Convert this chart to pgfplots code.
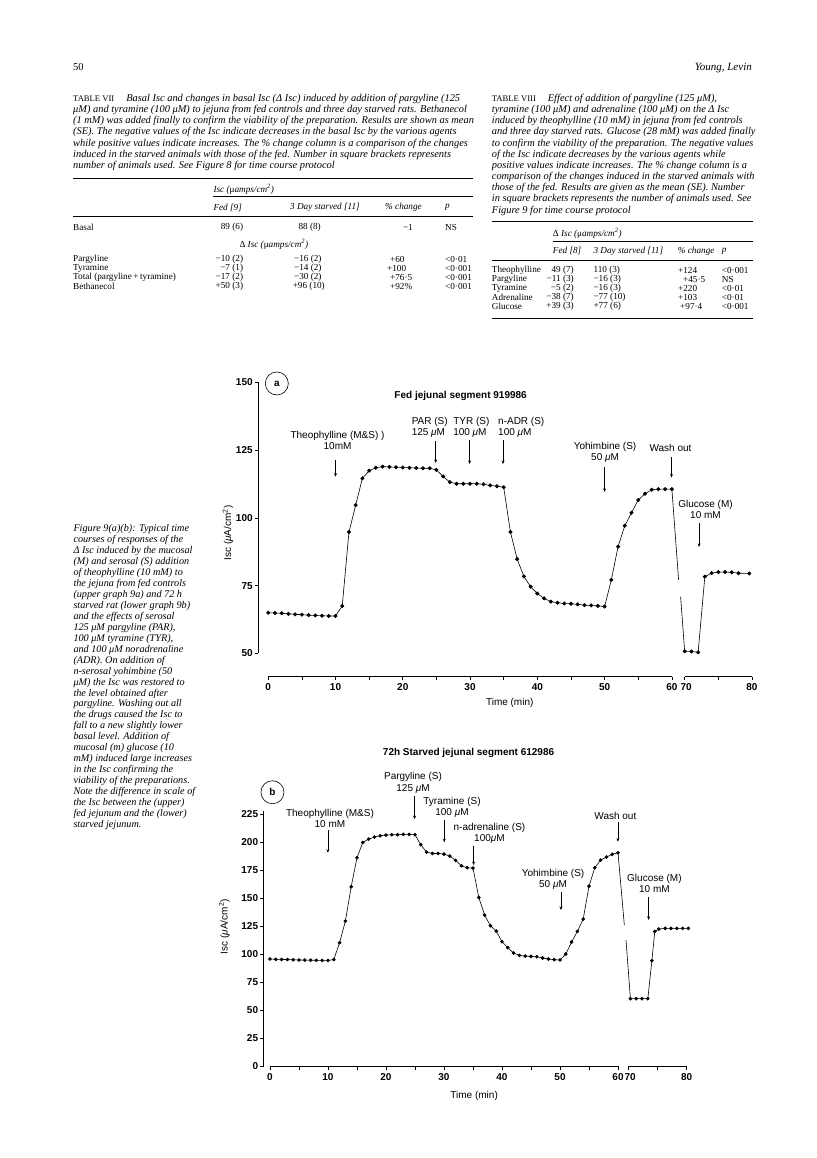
\documentclass[border=0pt]{standalone}
\usepackage{fontspec}
\setmainfont{Liberation Serif}
\setsansfont{Liberation Sans}
\usepackage{pgfplots}
\usepackage{pgfplotstable}
\pgfplotsset{compat=1.18}
\usetikzlibrary{arrows.meta}

% ---------- data: plot (a), fed jejunum ----------
\pgfplotstableread{
t v
0 65.0
1 64.9
2 64.8
3 64.6
4 64.4
5 64.3
6 64.1
7 64.0
8 63.9
9 63.8
10 63.8
11 67.5
12 94.8
13 104.7
14 114.6
15 117.4
16 118.5
17 118.9
18 118.8
19 118.7
20 118.6
21 118.5
22 118.4
23 118.3
24 118.3
25 117.7
26 115.3
27 113.2
28 112.6
29 112.6
30 112.6
31 112.6
32 112.4
33 112.0
34 111.7
35 111.3
36 94.8
37 84.8
38 78.4
39 74.6
40 72.1
41 70.3
42 69.1
43 68.7
44 68.4
45 68.3
46 68.1
47 67.8
48 67.7
49 67.5
50 67.3
51 77.1
52 89.4
53 97.1
54 101.9
55 106.6
56 108.9
57 110.4
58 110.6
59 110.6
60 110.6
}\dataAone
\pgfplotstableread{
t v
70 50.8
71 50.7
72 50.4
73 78.3
74 79.6
75 80.0
76 80.0
77 79.9
78 79.6
79.6 79.5
}\dataAtwo
% ---------- data: plot (b), starved jejunum ----------
\pgfplotstableread{
t v
0 95.7
1 95.4
2 95.3
3 95.2
4 95.0
5 94.8
6 94.7
7 94.6
8 94.5
9 94.4
10 94.4
11 95.2
12 110.2
13 129.5
14 160.1
15 186.0
16 199.6
17 202.6
18 204.4
19 205.6
20 206.2
21 206.5
22 206.5
23 206.8
24 206.8
25 206.5
26 197.6
27 191.0
28 189.8
29 189.8
30 189.2
31 187.5
32 183.6
33 178.8
34 177.1
35 176.8
36 150.6
37 134.9
38 125.4
39 120.6
40 111.1
41 105.8
42 101.0
43 98.9
44 98.3
45 98.0
46 97.7
47 96.6
48 95.7
49 95.1
50 94.8
51 100.1
52 110.8
53 120.3
54 131.3
55 160.7
56 177.1
57 183.9
58 186.6
59 189.0
60 190.4
}\dataBone
\pgfplotstableread{
t v
70.3 60.3
71.3 60.3
72.3 60.3
73.3 60.3
74.0 94.2
74.5 120.3
75.2 122.4
76.3 123.0
77.3 123.0
78.3 123.0
79.3 123.0
80.3 123.0
}\dataBtwo

\newcommand{\tn}[4][west]{\node[anchor=#1,inner sep=0pt] at (#2pt,{(1158-#3)*1pt}) {#4};}
\newcommand{\hr}[4]{\draw[line width=#4] (#1pt,{(1158-#3)*1pt}) -- (#2pt,{(1158-#3)*1pt});}
\newcommand{\capfont}{\fontsize{10.4}{11.15}\selectfont\itshape}
\newcommand{\tabf}{\fontsize{9.2}{10}\selectfont}
\newcommand{\tabi}{\fontsize{9.2}{10}\selectfont\itshape}
\newcommand{\tlab}[1]{{\upshape\fontsize{8.6}{9}\selectfont #1}\hspace{12pt}}
\newcommand{\annf}{\sffamily\fontsize{10}{11.2}\selectfont}
\newcommand{\tickf}{\sffamily\bfseries\fontsize{10}{10}\selectfont}
\tikzset{arr/.style={-{Stealth[length=3.5pt,width=3pt]}, line width=0.55pt}}

\begin{document}
\begin{tikzpicture}
\fill[white] (0,0) rectangle (816pt,1158pt);
\path[use as bounding box] (0,0) rectangle (816pt,1158pt);

% ---------- page header ----------
\tn{73}{67}{\fontsize{10.5}{12}\selectfont 50}
\tn[east]{752}{68}{\fontsize{11}{12}\selectfont\itshape Young, Levin}

% ---------- Table VII ----------
\node[anchor=north west, inner sep=0pt, align=left, font=\capfont] at (73pt,{(1158-94)*1pt}) {%
\tlab{TABLE VII}Basal Isc and changes in basal Isc (Δ Isc) induced by addition of pargyline (125\\
μM) and tyramine (100 μM) to jejuna from fed controls and three day starved rats. Bethanecol\\
(1 mM) was added finally to confirm the viability of the preparation. Results are shown as mean\\
(SE). The negative values of the Isc indicate decreases in the basal Isc by the various agents\\
while positive values indicate increases. The \% change column is a comparison of the changes\\
induced in the starved animals with those of the fed. Number in square brackets represents\\
number of animals used. See Figure 8 for time course protocol};
\hr{73}{473}{178.3}{1.1pt}
\tn{213.3}{189.3}{\tabi Isc ({\upshape μ}amps/cm\textsuperscript{2})}
\hr{213}{473}{196}{0.5pt}
\tn{213.3}{207.5}{\tabi Fed [9]}
\tn{290}{207.5}{\tabi 3 Day starved [11]}
\tn{385}{207.5}{\tabi \% change}
\tn{445}{207.5}{\tabi p}
\hr{73}{473}{216.5}{0.7pt}
\tn{73}{227.7}{\tabf Basal}
\tn[east]{243.3}{227.7}{\tabf 89 (6)}
\tn[east]{321}{227.7}{\tabf 88 (8)}
\tn[east]{413}{227.7}{\tabf −1}
\tn{445}{227.7}{\tabf NS}
\tn{239.3}{244}{\tabf Δ {\itshape Isc (}{\upshape μ}{\itshape amps/cm\textsuperscript{2})}}
\tn{73}{259.5}{\tabf Pargyline}
\tn{73}{268.5}{\tabf Tyramine}
\tn{73}{277.5}{\tabf Total (pargyline\,+\,tyramine)}
\tn{73}{286.5}{\tabf Bethanecol}
\tn[east]{243.3}{259.5}{\tabf −10 (2)}
\tn[east]{243.3}{268.5}{\tabf −7 (1)}
\tn[east]{243.3}{277.5}{\tabf −17 (2)}
\tn[east]{243.3}{286.5}{\tabf +50 (3)}
\tn[east]{321.7}{259.5}{\tabf −16 (2)}
\tn[east]{321.7}{268.5}{\tabf −14 (2)}
\tn[east]{321.7}{277.5}{\tabf −30 (2)}
\tn[east]{325}{286.5}{\tabf +96 (10)}
\tn{390}{259.5}{\tabf +60}
\tn{387}{268.5}{\tabf +100}
\tn{390}{277.5}{\tabf +76·5}
\tn{390}{286.5}{\tabf +92\%}
\tn{445}{259.5}{\tabf <0·01}
\tn{445}{268.5}{\tabf <0·001}
\tn{445}{277.5}{\tabf <0·001}
\tn{445}{286.5}{\tabf <0·001}

% ---------- Table VIII ----------
\node[anchor=north west, inner sep=0pt, align=left, font=\capfont] at (491.7pt,{(1158-94)*1pt}) {%
\tlab{TABLE VIII}Effect of addition of pargyline (125 μM),\\
tyramine (100 μM) and adrenaline (100 μM) on the Δ Isc\\
induced by theophylline (10 mM) in jejuna from fed controls\\
and three day starved rats. Glucose (28 mM) was added finally\\
to confirm the viability of the preparation. The negative values\\
of the Isc indicate decreases by the various agents while\\
positive values indicate increases. The \% change column is a\\
comparison of the changes induced in the starved animals with\\
those of the fed. Results are given as the mean (SE). Number\\
in square brackets represents the number of animals used. See\\
Figure 9 for time course protocol};
\hr{491.7}{753}{221.7}{1.1pt}
\tn{552.7}{233}{\tabf Δ {\itshape Isc (}{\upshape μ}{\itshape amps/cm\textsuperscript{2})}}
\hr{552.7}{753}{241}{0.5pt}
\tn{552.7}{251}{\tabi Fed [8]}
\tn{593.3}{251}{\tabi 3 Day starved [11]}
\tn{677.7}{251}{\tabi \% change}
\tn{721.7}{251}{\tabi p}
\hr{491.7}{753}{260.5}{0.7pt}
\tn{491.7}{270.7}{\tabf Theophylline}
\tn{491.7}{279.7}{\tabf Pargyline}
\tn{491.7}{288.7}{\tabf Tyramine}
\tn{491.7}{297.7}{\tabf Adrenaline}
\tn{491.7}{306.7}{\tabf Glucose}
\tn[east]{574}{270.7}{\tabf 49 (7)}
\tn[east]{574}{279.7}{\tabf −11 (3)}
\tn[east]{574}{288.7}{\tabf −5 (2)}
\tn[east]{574}{297.7}{\tabf −38 (7)}
\tn[east]{574}{306.7}{\tabf +39 (3)}
\tn{593.3}{270.7}{\tabf 110 (3)}
\tn{593.3}{279.7}{\tabf −16 (3)}
\tn{593.3}{288.7}{\tabf −16 (3)}
\tn{593.3}{297.7}{\tabf −77 (10)}
\tn{593.3}{306.7}{\tabf +77 (6)}
\tn{678}{270.7}{\tabf +124}
\tn{683}{279.7}{\tabf +45·5}
\tn{678}{288.7}{\tabf +220}
\tn{678}{297.7}{\tabf +103}
\tn{680}{306.7}{\tabf +97·4}
\tn{721.7}{270.7}{\tabf <0·001}
\tn{721.7}{279.7}{\tabf NS}
\tn{721.7}{288.7}{\tabf <0·01}
\tn{721.7}{297.7}{\tabf <0·01}
\tn{721.7}{306.7}{\tabf <0·001}
\hr{491.7}{753}{318}{0.7pt}

% ---------- figure caption ----------
\node[anchor=north west, inner sep=0pt, align=left, font=\fontsize{10.2}{10.95}\selectfont\itshape] at (73.3pt,{(1158-524.5)*1pt}) {%
Figure 9(a)(b): Typical time\\
courses of responses of the\\
Δ Isc induced by the mucosal\\
(M) and serosal (S) addition\\
of theophylline (10 mM) to\\
the jejuna from fed controls\\
(upper graph 9a) and 72 h\\
starved rat (lower graph 9b)\\
and the effects of serosal\\
125 μM pargyline (PAR),\\
100 μM tyramine (TYR),\\
and 100 μM noradrenaline\\
(ADR). On addition of\\
n-serosal yohimbine (50\\
μM) the Isc was restored to\\
the level obtained after\\
pargyline. Washing out all\\
the drugs caused the Isc to\\
fall to a new slightly lower\\
basal level. Addition of\\
mucosal (m) glucose (10\\
mM) induced large increases\\
in the Isc confirming the\\
viability of the preparations.\\
Note the difference in scale of\\
the Isc between the (upper)\\
fed jejunum and the (lower)\\
starved jejunum.};

% ---------- plot (a) ----------
\begin{axis}[
  at={(258.2pt,481.3pt)}, anchor=south west,
  scale only axis, width=494.4pt, height=294.3pt,
  xmin=-1.49, xmax=72, ymin=41.4, ymax=150,
  axis x line*=bottom, axis y line*=left,
  axis line style={draw=none},
  tick align=outside,
  major tick length=3.5pt, minor tick length=3.5pt,
  tick style={black, line width=0.6pt},
  xtick={0,10,20,30,40,50,60,61.9,71.9},
  xticklabels={0,10,20,30,40,50,{60\hspace{3pt}},{\hspace{3pt}70},80},
  minor xtick={5,15,25,35,45,55,66.9},
  ytick={50,75,100,125,150},
  yticklabels={50,75,100,125,150},
  ticklabel style={font=\tickf},
  yticklabel style={xshift=1.5pt},
  clip=false,
]
\draw[line width=0.7pt] (axis cs:-1.49,50) -- (axis cs:-1.49,150);
\draw[line width=0.7pt] (axis cs:0,41.4) -- (axis cs:60,41.4);
\draw[line width=0.7pt] (axis cs:61.9,41.4) -- (axis cs:71.9,41.4);
\addplot[black, line width=0.6pt, mark=*, mark size=1.7pt] table[x=t, y=v] {\dataAone};
\addplot[black, line width=0.6pt, mark=*, mark size=1.7pt] table[x expr=\thisrow{t}-8.1, y=v] {\dataAtwo};
\addplot[black, line width=0.6pt, no marks] coordinates {(60,110.6) (61.0,77.1)};
\addplot[black, line width=0.6pt, no marks] coordinates {(61.3,70.9) (61.9,50.8)};
\node[draw, circle, minimum size=23pt, inner sep=0pt, line width=0.6pt, font=\tickf] at (axis cs:1.28,149.6) {a};
\node[font=\sffamily\bfseries\fontsize{10}{12}\selectfont] at (axis cs:28.6,145) {Fed jejunal segment 919986};
\node[font=\annf, align=center] at (axis cs:10.3,128.5) {Theophylline (M\&S) )\\10mM};
\node[font=\annf, align=left, anchor=west] at (axis cs:20.81,133.4) {PAR (S)\\125 \textit{μ}M};
\node[font=\annf, align=left, anchor=west] at (axis cs:26.98,133.4) {TYR (S)\\100 \textit{μ}M};
\node[font=\annf, align=left, anchor=west] at (axis cs:33.66,133.4) {n-ADR (S)\\100 \textit{μ}M};
\node[font=\annf, align=center] at (axis cs:50.07,124.2) {Yohimbine (S)\\50 \textit{μ}M};
\node[font=\annf] at (axis cs:59.8,125.9) {Wash out};
\node[font=\annf, align=center] at (axis cs:65.0,103) {Glucose (M)\\10 mM};
\draw[arr] (axis cs:10,121.3) -- (axis cs:10,115.2);
\draw[arr] (axis cs:24.9,128.5) -- (axis cs:24.9,120.3);
\draw[arr] (axis cs:29.94,128.7) -- (axis cs:29.94,119.9);
\draw[arr] (axis cs:34.9,128.7) -- (axis cs:34.9,119.9);
\draw[arr] (axis cs:50,118.9) -- (axis cs:50,109.6);
\draw[arr] (axis cs:59.94,122.5) -- (axis cs:59.94,114.9);
\draw[arr] (axis cs:64.04,98) -- (axis cs:64.04,89.3);
\node[font=\annf, rotate=90] at (axis cs:-5.99,94.4) {Isc (\textit{μ}A/cm\textsuperscript{2})};
\node[font=\annf] at (axis cs:35.9,31.55) {Time (min)};
\end{axis}

% ---------- plot (b) ----------
\begin{axis}[
  at={(263.6pt,91.7pt)}, anchor=south west,
  scale only axis, width=429.8pt, height=252.3pt,
  xmin=-1.1, xmax=73, ymin=0, ymax=225,
  axis x line*=bottom, axis y line*=left,
  axis line style={draw=none},
  tick align=outside,
  major tick length=3.5pt, minor tick length=3.5pt,
  tick style={black, line width=0.6pt},
  xtick={0,10,20,30,40,50,60,61.84,71.84},
  xticklabels={0,10,20,30,40,50,{60\hspace{3pt}},{\hspace{3pt}70},80},
  minor xtick={5,15,25,35,45,55,66.84},
  ytick={0,25,50,75,100,125,150,175,200,225},
  yticklabels={0,25,50,75,100,125,150,175,200,225},
  ticklabel style={font=\tickf},
  yticklabel style={xshift=1.5pt},
  clip=false,
]
\draw[line width=0.7pt] (axis cs:-1.1,0) -- (axis cs:-1.1,228);
\draw[line width=0.7pt] (axis cs:0,0) -- (axis cs:60,0);
\draw[line width=0.7pt] (axis cs:61.84,0) -- (axis cs:71.84,0);
\addplot[black, line width=0.6pt, mark=*, mark size=1.5pt] table[x=t, y=v] {\dataBone};
\addplot[black, line width=0.6pt, mark=*, mark size=1.5pt] table[x expr=\thisrow{t}-8.16, y=v] {\dataBtwo};
\addplot[black, line width=0.6pt, no marks] coordinates {(60,190.4) (61.09,126)};
\addplot[black, line width=0.6pt, no marks] coordinates {(61.38,112.6) (62.14,60.3)};
\node[draw, circle, minimum size=23pt, inner sep=0pt, line width=0.6pt, font=\tickf] at (axis cs:0.43,244.4) {b};
\node[font=\sffamily\bfseries\fontsize{10}{12}\selectfont] at (axis cs:34.24,279.1) {72h Starved jejunal segment 612986};
\node[font=\annf, align=center] at (axis cs:10.34,221) {Theophylline (M\&S)\\10 mM};
\node[font=\annf, align=center] at (axis cs:24.66,252.7) {Pargyline (S)\\125 \textit{μ}M};
\node[font=\annf, align=center] at (axis cs:31.38,231.2) {Tyramine (S)\\100 \textit{μ}M};
\node[font=\annf, align=center] at (axis cs:37.84,207.4) {n-adrenaline (S)\\100\textit{μ}M};
\node[font=\annf, align=center] at (axis cs:48.8,166.9) {Yohimbine (S)\\50 \textit{μ}M};
\node[font=\annf] at (axis cs:59.55,223.5) {Wash out};
\node[font=\annf, align=center] at (axis cs:66.28,163.3) {Glucose (M)\\10 mM};
\draw[arr] (axis cs:9.98,210.7) -- (axis cs:9.98,190.5);
\draw[arr] (axis cs:24.93,241) -- (axis cs:24.93,220.5);
\draw[arr] (axis cs:30.05,219.7) -- (axis cs:30.05,199.8);
\draw[arr] (axis cs:35.1,196.5) -- (axis cs:35.1,179.5);
\draw[arr] (axis cs:50.17,155.7) -- (axis cs:50.17,139.4);
\draw[arr] (axis cs:59.98,218.1) -- (axis cs:59.98,200.3);
\draw[arr] (axis cs:65.28,151.3) -- (axis cs:65.28,130.5);
\node[font=\annf, rotate=90] at (axis cs:-7.88,124.5) {Isc (\textit{μ}A/cm\textsuperscript{2})};
\node[font=\annf] at (axis cs:35.2,-26.2) {Time (min)};
\end{axis}
\end{tikzpicture}
\end{document}
